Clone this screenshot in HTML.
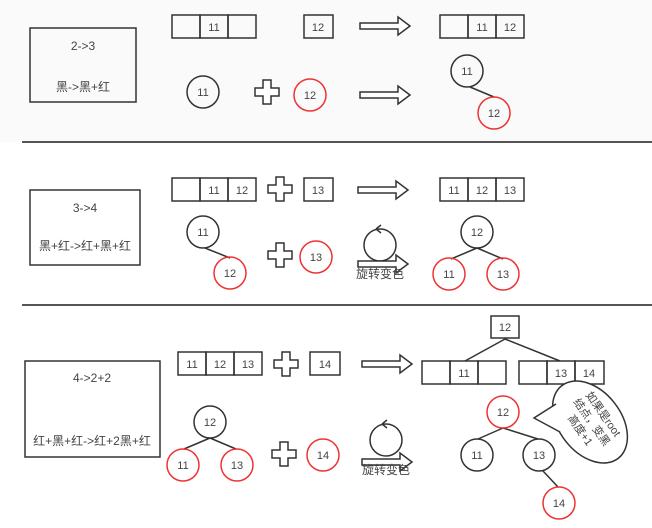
<!DOCTYPE html>
<html><head><meta charset="utf-8"><style>
html,body{margin:0;padding:0;background:#fff;}
svg{display:block;}
text{font-family:"Liberation Sans","Noto Sans CJK SC",sans-serif;fill:#444;}
</style></head><body>
<svg width="652" height="528" viewBox="0 0 652 528" xmlns="http://www.w3.org/2000/svg">
<defs>
<path id="plus" d="M-4,-12 H4 V-4 H12 V4 H4 V12 H-4 V4 H-12 V-4 H-4 Z" fill="#fff" stroke="#333" stroke-width="1.5"/>
<path id="arr" d="M0,-3 H38 V-9 L50,0 L38,9 V3 H0 Z" fill="#fff" stroke="#333" stroke-width="1.5"/>
</defs>
<rect x="0" y="0" width="652" height="142" fill="#fafafa"/>
<g fill="none" stroke="#333" stroke-width="1.5">
<!-- section 1 -->
<rect x="30" y="28" width="106" height="74"/>
<rect x="172" y="15" width="28" height="23"/><rect x="200" y="15" width="28" height="23"/><rect x="228" y="15" width="28" height="23"/>
<rect x="304" y="15" width="29" height="23"/>
<rect x="440" y="15" width="28" height="23"/><rect x="468" y="15" width="28" height="23"/><rect x="496" y="15" width="28" height="23"/>
<circle cx="203" cy="92" r="16"/>
<circle cx="310" cy="95" r="16" stroke="#e33"/>
<line x1="470" y1="87" x2="494" y2="97"/>
<circle cx="467" cy="71" r="16"/>
<circle cx="494" cy="113" r="16" stroke="#e33"/>
<line x1="22" y1="142" x2="652" y2="142" stroke="#555" stroke-width="2"/>
<!-- section 2 -->
<rect x="30" y="190" width="110" height="75"/>
<rect x="172" y="178" width="28" height="23"/><rect x="200" y="178" width="28" height="23"/><rect x="228" y="178" width="28" height="23"/>
<rect x="304" y="178" width="29" height="23"/>
<rect x="440" y="178" width="28" height="23"/><rect x="468" y="178" width="28" height="23"/><rect x="496" y="178" width="28" height="23"/>
<line x1="205" y1="248" x2="230" y2="258"/>
<circle cx="203" cy="232" r="16"/>
<circle cx="230" cy="273" r="16" stroke="#e33"/>
<circle cx="316" cy="257" r="16" stroke="#e33"/>
<circle cx="380" cy="245" r="16"/>
<path d="M376,229 L381,225 M376,229 L381,233"/>
<line x1="477" y1="248" x2="451" y2="259"/><line x1="477" y1="248" x2="503" y2="259"/>
<circle cx="477" cy="232" r="16"/>
<circle cx="449" cy="274" r="16" stroke="#e33"/>
<circle cx="503" cy="274" r="16" stroke="#e33"/>
<line x1="22" y1="305" x2="652" y2="305" stroke="#555" stroke-width="2"/>
<!-- section 3 -->
<rect x="25" y="361" width="135" height="96"/>
<rect x="178" y="352" width="28" height="23"/><rect x="206" y="352" width="28" height="23"/><rect x="234" y="352" width="28" height="23"/>
<rect x="310" y="352" width="30" height="23"/>
<rect x="491" y="316" width="28" height="22"/>
<line x1="505" y1="339" x2="465" y2="361"/><line x1="505" y1="339" x2="560" y2="361"/>
<rect x="422" y="361" width="28" height="23"/><rect x="450" y="361" width="28" height="23"/><rect x="478" y="361" width="28" height="23"/>
<rect x="519" y="361" width="28" height="23"/><rect x="547" y="361" width="28" height="23"/><rect x="575" y="361" width="29" height="23"/>
<line x1="210" y1="438" x2="184" y2="449"/><line x1="210" y1="438" x2="236" y2="449"/>
<circle cx="210" cy="422" r="16"/>
<circle cx="183" cy="465" r="16" stroke="#e33"/>
<circle cx="237" cy="465" r="16" stroke="#e33"/>
<circle cx="323" cy="455" r="16" stroke="#e33"/>
<circle cx="386" cy="440" r="16"/>
<path d="M382,424 L387,420 M382,424 L387,428"/>
<line x1="503" y1="428" x2="478" y2="439"/><line x1="503" y1="428" x2="538" y2="439"/>
<line x1="543" y1="471" x2="558" y2="487"/>
<circle cx="503" cy="412" r="16" stroke="#e33"/>
<circle cx="477" cy="455" r="16"/>
<circle cx="539" cy="455" r="16"/>
<circle cx="559" cy="503" r="16" stroke="#e33"/>
<ellipse cx="590" cy="422" rx="46" ry="31" transform="rotate(52 590 422)" fill="#fff"/>
<path d="M556,404 L534,418 L560,432 Z" fill="#fff" stroke="none"/>
<path d="M556,404 L534,418 L560,432"/>
</g>
<use href="#arr" x="360" y="26"/><use href="#arr" x="360" y="95"/>
<use href="#plus" x="267" y="92"/>
<use href="#arr" x="358" y="190"/><use href="#plus" x="280" y="189"/><use href="#plus" x="280" y="255"/>
<use href="#arr" x="358" y="264"/>
<use href="#arr" x="362" y="364"/><use href="#plus" x="286" y="364"/><use href="#plus" x="284" y="454"/>
<use href="#arr" x="362" y="462"/>
<g font-size="11" text-anchor="middle">
<text x="83" y="50" font-size="12">2-&gt;3</text>
<text x="83" y="91" font-size="12">黑-&gt;黑+红</text>
<text x="214" y="31">11</text><text x="318" y="31">12</text>
<text x="482" y="31">11</text><text x="510" y="31">12</text>
<text x="203" y="96">11</text><text x="310" y="99">12</text>
<text x="467" y="75">11</text><text x="494" y="117">12</text>
<text x="85" y="212" font-size="12">3-&gt;4</text>
<text x="85" y="250" font-size="12">黑+红-&gt;红+黑+红</text>
<text x="214" y="194">11</text><text x="242" y="194">12</text><text x="318" y="194">13</text>
<text x="454" y="194">11</text><text x="482" y="194">12</text><text x="510" y="194">13</text>
<text x="203" y="236">11</text><text x="230" y="277">12</text><text x="316" y="261">13</text>
<text x="380" y="278" font-size="12">旋转变色</text>
<text x="477" y="236">12</text><text x="449" y="278">11</text><text x="503" y="278">13</text>
<text x="92" y="382" font-size="12">4-&gt;2+2</text>
<text x="92" y="445" font-size="12">红+黑+红-&gt;红+2黑+红</text>
<text x="192" y="368">11</text><text x="220" y="368">12</text><text x="248" y="368">13</text><text x="325" y="368">14</text>
<text x="505" y="331">12</text>
<text x="464" y="377">11</text><text x="561" y="377">13</text><text x="589" y="377">14</text>
<text x="210" y="426">12</text><text x="183" y="469">11</text><text x="237" y="469">13</text><text x="323" y="459">14</text>
<text x="386" y="474" font-size="12">旋转变色</text>
<text x="503" y="416">12</text><text x="477" y="459">11</text><text x="539" y="459">13</text><text x="559" y="507">14</text>
<g transform="translate(592 422) rotate(55)" font-size="11">
<text x="0" y="-10">如果是root</text>
<text x="0" y="4">结点，变黑</text>
<text x="0" y="18">高度+1</text>
</g>
</g>
</svg>
</body></html>
